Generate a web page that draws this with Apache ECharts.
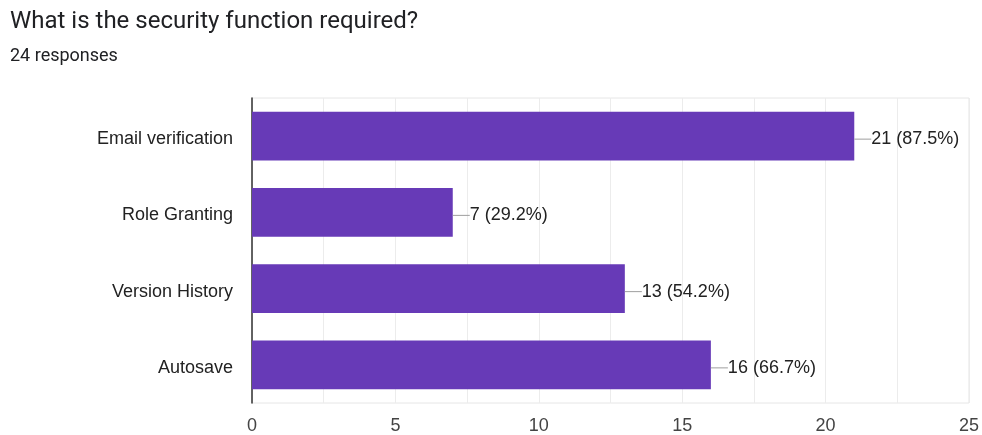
<!DOCTYPE html>
<html>
<head>
<meta charset="utf-8">
<style>
  html, body { margin: 0; padding: 0; background: #fff; }
  #chart { width: 982px; height: 435px; }
</style>
<script src="https://cdn.jsdelivr.net/npm/echarts@6/dist/echarts.min.js"></script>
</head>
<body>
<div id="chart"></div>
<script>
// Survey answers: "What is the security function required?"
const categories = ['Email verification', 'Role Granting', 'Version History', 'Autosave'];
const counts = [21, 7, 13, 16];
const totalResponses = 24;
const tickLabels = ['0', '5', '10', '15', '20', '25'];

const chart = echarts.init(document.getElementById('chart'));
const headFont = 'Roboto, "Noto Sans", sans-serif';
const axisFont = '"Liberation Sans", Arial, sans-serif';

chart.setOption({
  animation: false,
  title: [
    {
      text: 'What is the security function required?',
      left: 10, top: 10, padding: 0,
      textStyle: { fontFamily: headFont, fontSize: 24, fontWeight: 'normal', color: '#202124' }
    },
    {
      text: totalResponses + ' responses',
      left: 10, top: 47, padding: 0,
      textStyle: { fontFamily: headFont, fontSize: 18, fontWeight: 'normal', color: '#202124' }
    }
  ],
  grid: {
    left: 252, right: 11, top: 98, bottom: 28,
    show: true, borderColor: '#e6e6e6', borderWidth: 1
  },
  xAxis: {
    type: 'value',
    min: 0, max: 25, interval: 2.5,
    axisLine: { show: false },
    axisTick: { show: false },
    splitLine: { lineStyle: { color: '#ececec', width: 1 } },
    axisLabel: {
      margin: 14,
      fontFamily: axisFont, fontSize: 18, color: '#444',
      formatter: v => (v % 5 === 0 ? tickLabels[v / 5] : '')
    }
  },
  yAxis: {
    type: 'category',
    data: categories,
    inverse: true,
    axisLine: { show: true, lineStyle: { color: '#333', width: 1.5 } },
    axisTick: { show: false },
    splitLine: { show: false },
    axisLabel: {
      margin: 19, verticalAlign: 'top', lineHeight: 6,
      fontFamily: axisFont, fontSize: 18, color: '#222'
    }
  },
  series: [{
    type: 'bar',
    data: counts,
    barCategoryGap: '36%',
    itemStyle: { color: '#673ab7' },
    label: {
      show: true,
      position: 'right',
      distance: 0,
      offset: [0, 3],
      formatter: p => '{l|}' + p.value + ' (' + (p.value / totalResponses * 100).toFixed(1) + '%)',
      fontFamily: axisFont, fontSize: 18, color: '#222',
      rich: {
        l: { width: 17, height: 1, backgroundColor: '#9e9e9e' }
      }
    }
  }]
});
</script>
</body>
</html>
